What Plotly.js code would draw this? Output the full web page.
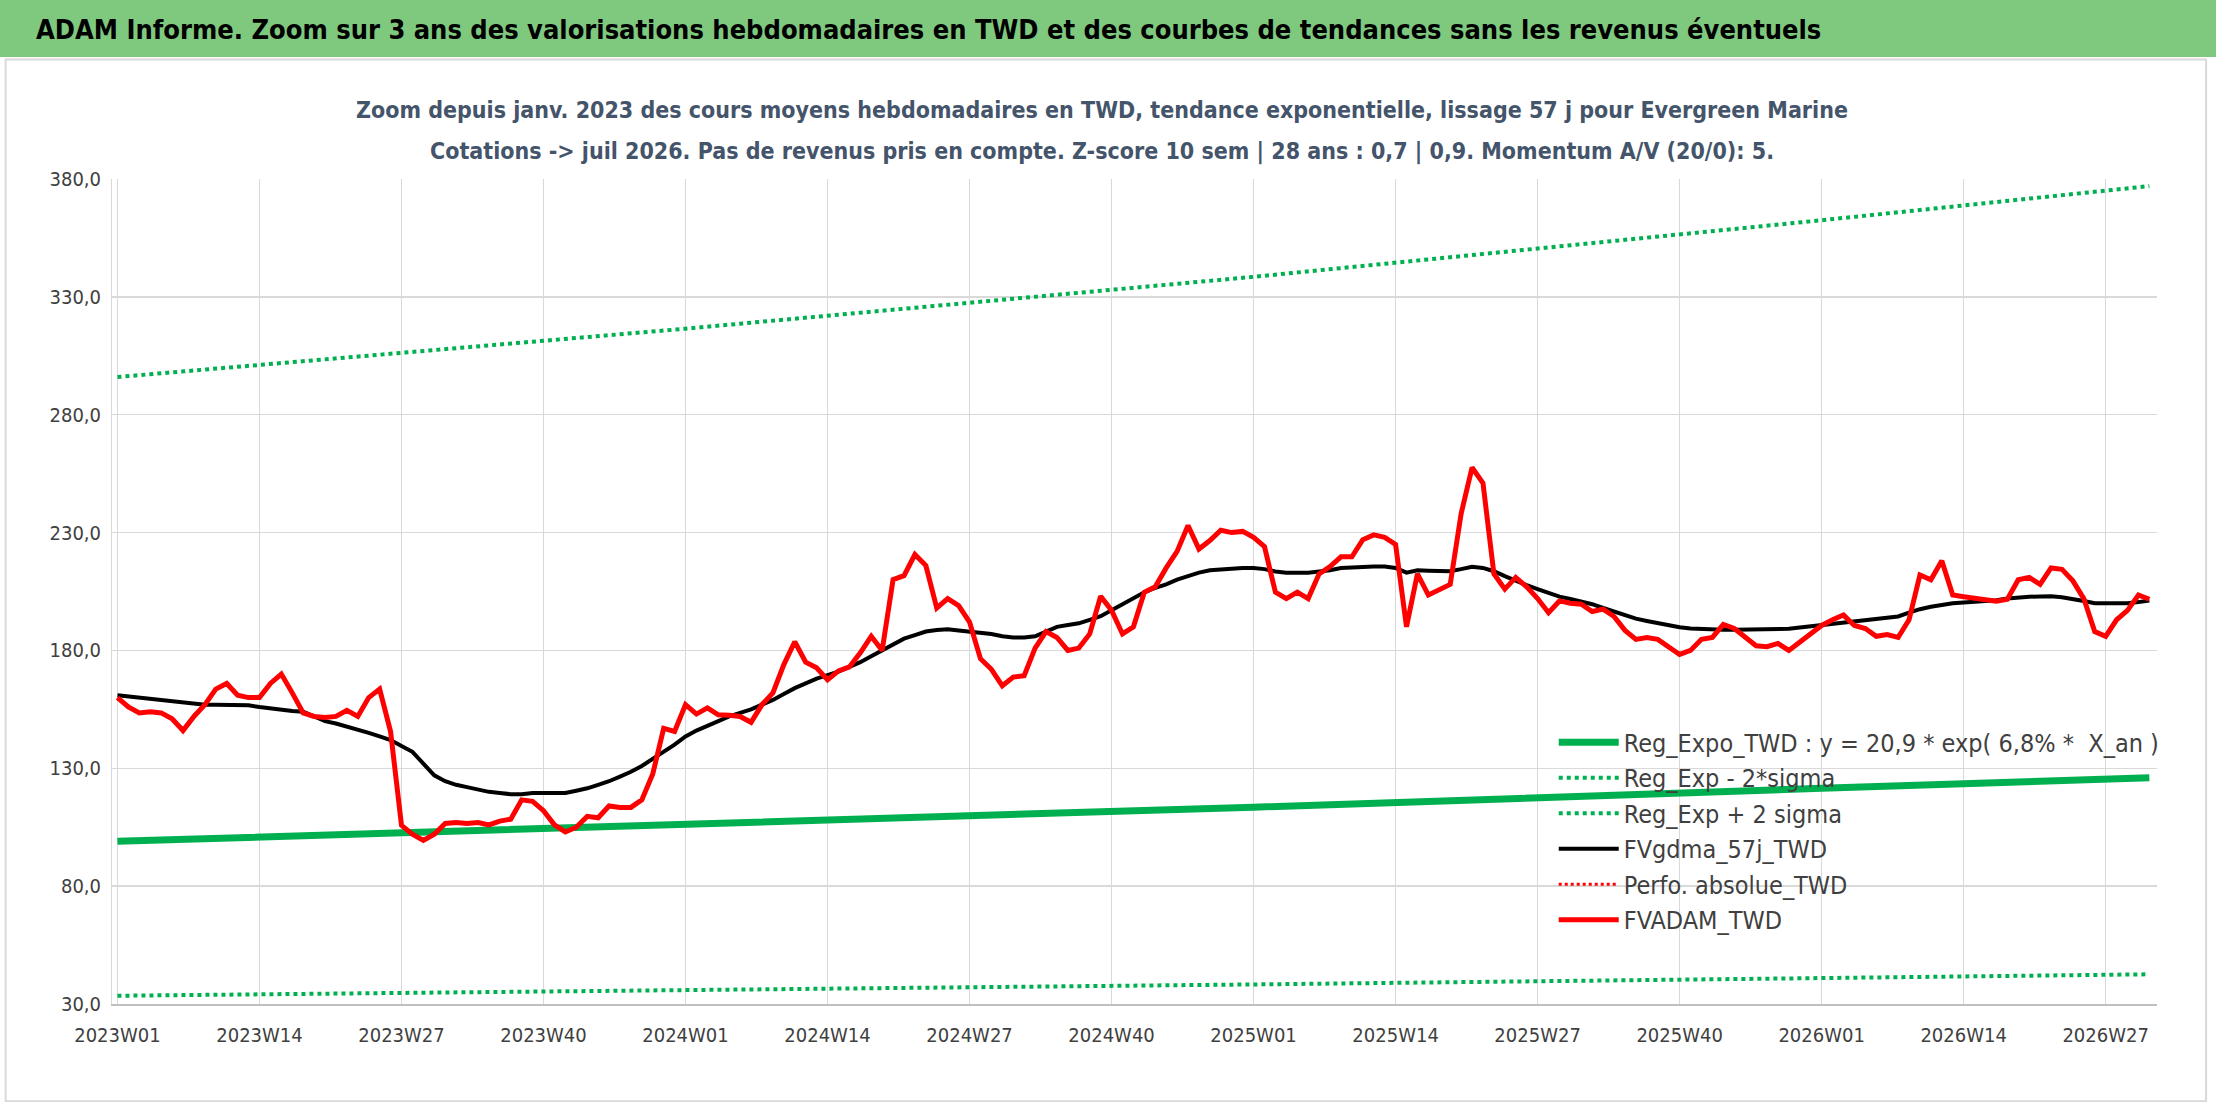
<!DOCTYPE html>
<html>
<head>
<meta charset="utf-8">
<script src="https://cdn.plot.ly/plotly-3.0.1.min.js"></script>
<style>
  html, body { margin: 0; padding: 0; background: #ffffff; }
  #chart { width: 2216px; height: 1102px; }
</style>
</head>
<body>
<div id="chart"></div>
<script>
// weekly categories 2023W01 .. 2026W31
var weeks = [];
[2023, 2024, 2025, 2026].forEach(function(yr) {
	for (var w = 1; w <= 52; w++) {
		if (yr == 2026 && w > 31) break;
		weeks.push(yr + 'W' + (w < 10 ? '0' + w : w));
	}
});
var tick_labels = ['2023W01','2023W14','2023W27','2023W40','2024W01','2024W14','2024W27','2024W40',
                   '2025W01','2025W14','2025W27','2025W40','2026W01','2026W14','2026W27'];

// FVADAM_TWD (weekly valuation)
var fvadam = [
	160,156,153.5,154,153.5,151,146,152,157,163.6,
	166,161,160,160,166,170,162,153.5,152,151.5,
	152,154.6,152,160,163.6,145.6,105.8,102,99.4,102,
	106.6,107,106.6,107,106,107.6,108.4,116.6,116,112,
	106,103,105,109.6,109,114,113.4,113.4,116.6,127.6,
	146.9,145.6,157,153,155.6,152.7,152.5,152,149.5,157,
	162,174,183.7,175,172.6,167.5,171.3,173,179,186,
	180,210,211.7,220.7,216,198,202,199,192,176.5,
	172,165,168.7,169.3,181,188,185.5,180,181,187,
	203,197,187,190,204.7,207,215,222,233,223,
	226.6,231,230,230.5,228,224,204.7,202,204.7,202,
	212.5,215.6,219.7,219.7,227,229,228,225,190,212.5,
	203.5,206,208,238,257.6,251,212.5,206,211,207,
	202,196,201,200,199.6,196.5,197.5,194.4,188.5,184.7,
	185.5,184.7,181.6,178.3,180,184.7,185.5,191,189.3,185.5,
	182,181.6,183,180,183.7,187,190.6,193,195,190.6,
	189.3,186,186.7,185.5,193,212,210,218,203.5,202.8,
	202,201.7,200.9,201.7,210,211,208,215,214.4,209.5,
	202,188,186,193,197,203.5,201.7
];

// FVgdma_57j_TWD (57-day smoothing)
var fvgdma = [
	161,160.5,160,159.5,159,158.5,158,157.5,157,157,
	157,157,156.7,156,155.3,154.6,154.3,154,152,150,
	149,147.8,146.5,145,143.5,142,139.5,137,132,127,
	124.5,123,122,121,120,119.5,119,119,119.5,119.5,
	119.5,119.5,120.5,121.5,123,124.5,126.5,128.5,131,134,
	137,140,143.5,146,148,150,152,153.5,155,157,
	159,161.5,164,166,168,169.5,171,173,175,177.5,
	180,182.5,185,186.5,188,188.7,189,188.5,188,187.5,
	187,186,185.5,185.5,186,188,190,190.8,191.5,193,
	194.5,197,199.5,202,204.7,206.5,208,210,211.7,213,
	214,214.4,214.7,215,215,214.5,213.5,213,213,213,
	213.5,214,215,215.3,215.5,215.6,215.6,215,213,214,
	213.8,213.7,213.6,214.5,215.5,215,213.6,211.5,209.5,207.7,
	206,204.5,202.8,201.8,200.8,199.6,198,196.5,195,193.5,
	192.5,191.5,190.5,189.8,189.3,189,188.9,188.8,188.8,188.8,
	188.8,188.8,188.8,189.2,189.7,190.2,190.6,191.3,192,192.5,
	193,193.4,193.8,194.4,196,197.5,198.5,199.3,200,200.3,
	200.6,200.9,201.3,202,202.5,202.8,202.9,203,202.6,202,
	201,200,200,200,200,200.5,201.2
];

// regression curves read at year starts and at the last week
var reg_weeks = ['2023W01', '2024W01', '2025W01', '2026W01', '2026W31'];
var reg_expo  = [99, 106, 113.5, 121.5, 126];
var reg_plus  = [296, 316.5, 338.5, 362.5, 377];
var reg_minus = [33.5, 35.8, 38.3, 41, 42.6];

var green = '#00B050';
var font_fam = '"Liberation Sans Narrow", "DejaVu Sans Condensed", "Open Sans", sans-serif';

var trace_expo = {
	x: reg_weeks, y: reg_expo, type: 'scatter', mode: 'lines',
	name: 'Reg_Expo_TWD : y = 20,9 * exp( 6,8% *  X_an )',
	line: { color: green, width: 7 }
};
var trace_minus = {
	x: reg_weeks, y: reg_minus, type: 'scatter', mode: 'lines',
	name: 'Reg_Exp - 2*sigma',
	line: { color: green, width: 4, dash: 'dot' }
};
var trace_plus = {
	x: reg_weeks, y: reg_plus, type: 'scatter', mode: 'lines',
	name: 'Reg_Exp + 2 sigma',
	line: { color: green, width: 4, dash: 'dot' }
};
var trace_gdma = {
	x: weeks, y: fvgdma, type: 'scatter', mode: 'lines',
	name: 'FVgdma_57j_TWD',
	line: { color: '#000000', width: 4 }
};
var trace_perfo = {
	x: [weeks[0]], y: [null], type: 'scatter', mode: 'lines',
	name: 'Perfo. absolue_TWD',
	line: { color: '#FF0000', width: 3, dash: 'dot' }
};
var trace_adam = {
	x: weeks, y: fvadam, type: 'scatter', mode: 'lines',
	name: 'FVADAM_TWD',
	line: { color: '#FF0000', width: 5 }
};

var data = [trace_expo, trace_minus, trace_plus, trace_gdma, trace_perfo, trace_adam];

var layout = {
	width: 2216, height: 1102,
	margin: { l: 112, r: 59, t: 179, b: 98 },
	paper_bgcolor: '#ffffff', plot_bgcolor: '#ffffff',
	font: { family: font_fam, color: '#404040', size: 18 },
	showlegend: true,
	separators: ',.',
	legend: {
		x: 0.705, y: 0.345, xanchor: 'left', yanchor: 'top',
		bgcolor: 'rgba(0,0,0,0)',
		font: { family: font_fam, size: 25, color: '#404040' },
		tracegroupgap: 0, itemwidth: 60
	},
	xaxis: {
		type: 'category', categoryorder: 'array', categoryarray: weeks,
		range: [-0.5, weeks.length - 0.3],
		tickvals: tick_labels, ticktext: tick_labels,
		showgrid: true, gridcolor: '#D9D9D9', gridwidth: 1.5,
		showline: true, linecolor: '#BFBFBF', linewidth: 1.5,
		ticks: 'outside', ticklen: 12, tickcolor: 'rgba(0,0,0,0)',
		tickfont: { size: 20, color: '#404040' },
		zeroline: false
	},
	yaxis: {
		range: [30, 380], tickvals: [30, 80, 130, 180, 230, 280, 330, 380],
		tickformat: '.1f',
		showgrid: true, gridcolor: '#D9D9D9', gridwidth: 1.5,
		showline: true, linecolor: '#D9D9D9',
		ticks: 'outside', ticklen: 6, tickcolor: 'rgba(0,0,0,0)',
		tickfont: { size: 20, color: '#404040' },
		zeroline: false
	},
	shapes: [
		{ type: 'rect', xref: 'paper', yref: 'paper', x0: -0.06, x1: 1.03, y0: 1.148, y1: 1.22,
		  fillcolor: '#7FC97F', line: { width: 0 }, layer: 'below' },
		{ type: 'rect', xref: 'paper', yref: 'paper', x0: -0.052, x1: 1.024, y0: -0.118, y1: 1.145,
		  fillcolor: 'rgba(0,0,0,0)', line: { color: '#D9D9D9', width: 2 }, layer: 'below' }
	],
	annotations: [
		{ text: '<b>ADAM Informe. Zoom sur 3 ans des valorisations hebdomadaires en TWD et des courbes de tendances sans les revenus éventuels</b>',
		  xref: 'paper', yref: 'paper', x: -0.038, y: 1.181, xanchor: 'left', yanchor: 'middle',
		  showarrow: false, font: { family: font_fam, size: 27, color: '#000000' } },
		{ text: '<b>Zoom depuis janv. 2023 des cours moyens hebdomadaires en TWD, tendance exponentielle, lissage 57 j pour Evergreen Marine</b>',
		  xref: 'paper', yref: 'paper', x: 0.484, y: 1.084, xanchor: 'center', yanchor: 'middle',
		  showarrow: false, font: { family: font_fam, size: 23, color: '#44546A' } },
		{ text: '<b>Cotations -> juil 2026. Pas de revenus pris en compte. Z-score 10 sem | 28 ans : 0,7 | 0,9. Momentum A/V (20/0): 5.</b>',
		  xref: 'paper', yref: 'paper', x: 0.484, y: 1.033, xanchor: 'center', yanchor: 'middle',
		  showarrow: false, font: { family: font_fam, size: 23, color: '#44546A' } }
	]
};

Plotly.newPlot('chart', data, layout, { displayModeBar: false, staticPlot: true });
</script>
</body>
</html>
